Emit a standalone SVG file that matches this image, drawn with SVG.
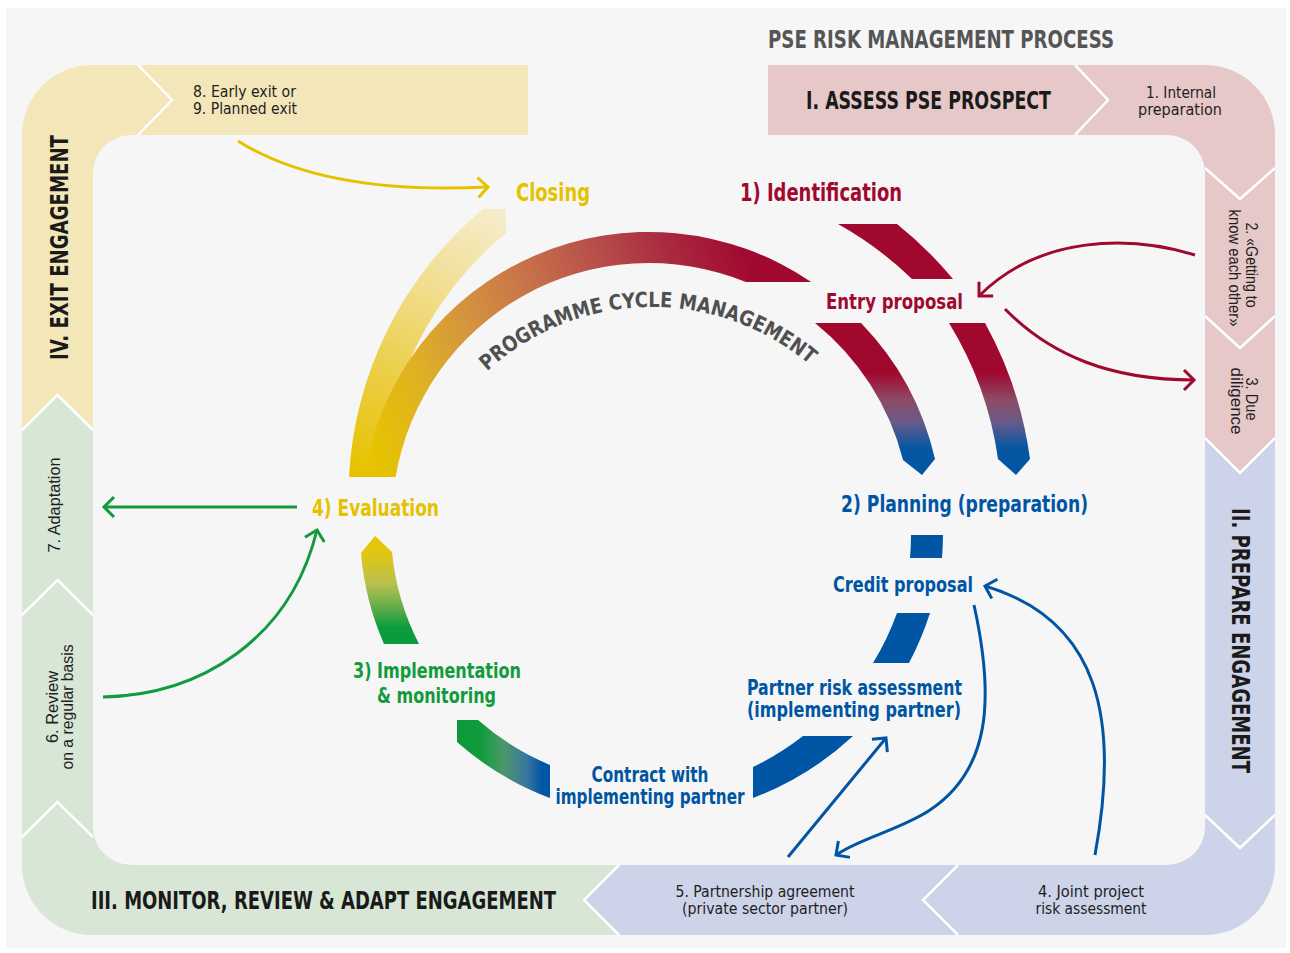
<svg xmlns="http://www.w3.org/2000/svg" width="1290" height="953" viewBox="0 0 1290 953">
<defs>
<style>
.cy{font-family:"Liberation Sans Narrow","DejaVu Sans Condensed","Liberation Sans",Arial,sans-serif;font-weight:bold}
.bd{font-family:"Liberation Sans Narrow","DejaVu Sans Condensed","Liberation Sans",Arial,sans-serif;font-size:16px;fill:#1e1e1e}
.rt{font-family:"Liberation Sans","DejaVu Sans",Arial,sans-serif;font-size:16px;fill:#1e1e1e}
.hd{font-family:"Liberation Sans Narrow","DejaVu Sans Condensed","Liberation Sans",Arial,sans-serif;font-weight:bold;font-size:24px;fill:#1a1a1a}
.sep{fill:none;stroke:#ffffff;stroke-width:2.5}
.cn{fill:none;stroke-width:3}
.yl{fill:#e5c200}.rd{fill:#a0092f}.bl{fill:#0055a3}.gr{fill:#129a3c}
</style>
<clipPath id="bandClip">
<path clip-rule="evenodd" d="M92,65 H1205 A70,70 0 0 1 1275,135 V865 A70,70 0 0 1 1205,935 H92 A70,70 0 0 1 22,865 V135 A70,70 0 0 1 92,65 Z M131,135 H1167 A38,38 0 0 1 1205,173 V827 A38,38 0 0 1 1167,865 H131 A38,38 0 0 1 93,827 V173 A38,38 0 0 1 131,135 Z"/>
</clipPath>
<linearGradient id="gMain" gradientUnits="userSpaceOnUse" x1="370" y1="440" x2="800" y2="270">
<stop offset="0" stop-color="#e6c300"/><stop offset="0.15" stop-color="#dfb124"/><stop offset="0.3" stop-color="#d3923f"/><stop offset="0.45" stop-color="#c7714a"/><stop offset="0.6" stop-color="#b84f4a"/><stop offset="0.75" stop-color="#a92a40"/><stop offset="0.9" stop-color="#a10a30"/><stop offset="1" stop-color="#a0082e"/>
</linearGradient>
<linearGradient id="gPale" gradientUnits="userSpaceOnUse" x1="500" y1="215" x2="360" y2="470">
<stop offset="0" stop-color="#f6eccb"/><stop offset="0.35" stop-color="#f1dd8c"/><stop offset="0.7" stop-color="#ebcd40"/><stop offset="1" stop-color="#e6c300"/>
</linearGradient>
<linearGradient id="gRB" gradientUnits="userSpaceOnUse" x1="0" y1="323" x2="0" y2="475">
<stop offset="0" stop-color="#a0082e"/><stop offset="0.33" stop-color="#a0082e"/><stop offset="0.5" stop-color="#8f4a66"/><stop offset="0.65" stop-color="#6a5a88"/><stop offset="0.82" stop-color="#0757a2"/><stop offset="1" stop-color="#0055a4"/>
</linearGradient>
<linearGradient id="gYG" gradientUnits="userSpaceOnUse" x1="0" y1="536" x2="0" y2="644">
<stop offset="0" stop-color="#e6c600"/><stop offset="0.15" stop-color="#e2c610"/><stop offset="0.45" stop-color="#b8c050"/><stop offset="0.7" stop-color="#50a848"/><stop offset="0.85" stop-color="#0c9c3c"/><stop offset="1" stop-color="#0a9a3c"/>
</linearGradient>
<linearGradient id="gGB" gradientUnits="userSpaceOnUse" x1="457" y1="0" x2="550" y2="0">
<stop offset="0" stop-color="#0a9a3c"/><stop offset="0.25" stop-color="#109c3c"/><stop offset="0.5" stop-color="#4a9868"/><stop offset="0.75" stop-color="#3a76a0"/><stop offset="0.92" stop-color="#0055a4"/><stop offset="1" stop-color="#0055a4"/>
</linearGradient>
<marker id="aY" markerUnits="userSpaceOnUse" markerWidth="30" markerHeight="30" viewBox="-15 -15 30 30" refX="0" refY="0" orient="auto" overflow="visible"><path d="M-10,-10 L0,0 L-10,10" fill="none" stroke="#e5c200" stroke-width="3"/></marker>
<marker id="aG" markerUnits="userSpaceOnUse" markerWidth="30" markerHeight="30" viewBox="-15 -15 30 30" refX="0" refY="0" orient="auto" overflow="visible"><path d="M-10,-10 L0,0 L-10,10" fill="none" stroke="#129a3c" stroke-width="3"/></marker>
<marker id="aR" markerUnits="userSpaceOnUse" markerWidth="30" markerHeight="30" viewBox="-15 -15 30 30" refX="0" refY="0" orient="auto" overflow="visible"><path d="M-10,-10 L0,0 L-10,10" fill="none" stroke="#a0092f" stroke-width="3"/></marker>
<marker id="aB" markerUnits="userSpaceOnUse" markerWidth="30" markerHeight="30" viewBox="-15 -15 30 30" refX="0" refY="0" orient="auto" overflow="visible"><path d="M-10,-10 L0,0 L-10,10" fill="none" stroke="#0055a3" stroke-width="3"/></marker>
<path id="pcm" d="M485.6,372.6 A244,244 0 0 1 821.5,375.5" fill="none"/>
</defs>

<rect x="6" y="8" width="1280" height="940" fill="#f6f6f6"/>

<g id="bands">
<g clip-path="url(#bandClip)">
<path d="M0,0 H528 V200 H120 V457.5 L57.5,395 L0,452.5 Z" fill="#f3e6b9"/>
<path d="M0,452.5 L57.5,395 L120,457.5 V840 H644 L584,900 L644,960 H0 Z" fill="#d7e6d5"/>
<path d="M584,900 L644,840 H1150 V383 L1240,473 L1330,383 V960 H644 Z" fill="#cdd3e8"/>
<path d="M768,0 H1330 V383 L1240,473 L1150,383 V200 H768 Z" fill="#e6c8c9"/>
<polyline class="sep" points="22,430 57.5,395 93,430"/>
<polyline class="sep" points="22,615 57.5,580 93,615"/>
<polyline class="sep" points="22,837 57.5,802 93,837"/>
<polyline class="sep" points="619,865 584,900 619,935"/>
<polyline class="sep" points="958,865 923,900 958,935"/>
<polyline class="sep" points="1205,438 1240,473 1275,438"/>
<polyline class="sep" points="1205,815 1240,848 1275,815"/>
<polyline class="sep" points="1205,316 1240,348 1275,316"/>
<polyline class="sep" points="1205,168 1240,199 1275,168"/>
<polyline class="sep" points="138,65 172,100 138,135"/>
<polyline class="sep" points="1075,65 1108,100 1075,135"/>
</g>
</g>

<g id="title">
<text class="cy" x="768" y="48" font-size="25" fill="#555555" textLength="346" lengthAdjust="spacingAndGlyphs">PSE RISK MANAGEMENT PROCESS</text>
</g>

<g id="stage-I">
<text class="hd" x="806" y="109" textLength="245" lengthAdjust="spacingAndGlyphs">I. ASSESS PSE PROSPECT</text>
<text class="bd" x="1181" y="98" font-size="15" text-anchor="middle" textLength="70" lengthAdjust="spacingAndGlyphs">1. Internal</text>
<text class="bd" x="1180" y="115" font-size="15" text-anchor="middle" textLength="84" lengthAdjust="spacingAndGlyphs">preparation</text>
<text class="rt" transform="translate(1246,265) rotate(90)" text-anchor="middle" textLength="85" lengthAdjust="spacingAndGlyphs">2. «Getting to</text>
<text class="rt" transform="translate(1229,268) rotate(90)" text-anchor="middle" textLength="117" lengthAdjust="spacingAndGlyphs">know each other»</text>
<text class="rt" transform="translate(1246,399) rotate(90)" text-anchor="middle" textLength="43" lengthAdjust="spacingAndGlyphs">3. Due</text>
<text class="rt" transform="translate(1231,401) rotate(90)" text-anchor="middle" textLength="67" lengthAdjust="spacingAndGlyphs">diligence</text>
</g>

<g id="stage-II">
<text class="hd" transform="translate(1232,508) rotate(90)" font-size="25" textLength="265" lengthAdjust="spacingAndGlyphs">II. PREPARE ENGAGEMENT</text>
<text class="bd" x="1091" y="897" text-anchor="middle" textLength="106" lengthAdjust="spacingAndGlyphs">4. Joint project</text>
<text class="bd" x="1091" y="914" text-anchor="middle" textLength="111" lengthAdjust="spacingAndGlyphs">risk assessment</text>
<text class="bd" x="765" y="897" text-anchor="middle" textLength="179" lengthAdjust="spacingAndGlyphs">5. Partnership agreement</text>
<text class="bd" x="765" y="914" text-anchor="middle" textLength="166" lengthAdjust="spacingAndGlyphs">(private sector partner)</text>
</g>

<g id="stage-III">
<text class="hd" x="91" y="909" textLength="465" lengthAdjust="spacingAndGlyphs">III. MONITOR, REVIEW &amp; ADAPT ENGAGEMENT</text>
<text class="rt" transform="translate(58,707) rotate(-90)" text-anchor="middle" textLength="72" lengthAdjust="spacingAndGlyphs">6. Review</text>
<text class="rt" transform="translate(73,707) rotate(-90)" text-anchor="middle" textLength="125" lengthAdjust="spacingAndGlyphs">on a regular basis</text>
<text class="rt" transform="translate(60,505) rotate(-90)" text-anchor="middle" textLength="95" lengthAdjust="spacingAndGlyphs">7. Adaptation</text>
</g>

<g id="stage-IV">
<text class="hd" transform="translate(68,360) rotate(-90)" font-size="25" textLength="225" lengthAdjust="spacingAndGlyphs">IV. EXIT ENGAGEMENT</text>
<text class="bd" x="193" y="97" textLength="103" lengthAdjust="spacingAndGlyphs">8. Early exit or</text>
<text class="bd" x="193" y="114" textLength="104" lengthAdjust="spacingAndGlyphs">9. Planned exit</text>
</g>

<g id="n-closing">
<path d="M349,477 A374,374 0 0 1 483,209 L506,209 L506,233 A341,341 0 0 0 382,477 Z" fill="url(#gPale)"/>
<text class="cy yl" x="516" y="201" font-size="24" textLength="74" lengthAdjust="spacingAndGlyphs">Closing</text>
</g>

<g id="n-programme-cycle">
<path d="M364.2,477 A288,288 0 0 1 811.2,282 L746,282 A257,257 0 0 0 395.6,477 Z" fill="url(#gMain)"/>
<text class="cy" font-size="21" fill="#505050"><textPath href="#pcm" startOffset="2" textLength="352" lengthAdjust="spacingAndGlyphs">PROGRAMME CYCLE MANAGEMENT</textPath></text>
</g>

<g id="n-identification">
<text class="cy rd" x="740" y="201" font-size="24" textLength="162" lengthAdjust="spacingAndGlyphs">1) Identification</text>
<path d="M838,224 L897,224 A387,387 0 0 1 953,279 L912,279 A355,355 0 0 0 838,224 Z" fill="#a0082e"/>
</g>

<g id="n-entry-proposal">
<text class="cy rd" x="826" y="309" font-size="22" textLength="137" lengthAdjust="spacingAndGlyphs">Entry proposal</text>
<path d="M815,323 L861,323 A288,288 0 0 1 935,459 L922,475 L903,460 A257,257 0 0 0 815,323 Z" fill="url(#gRB)"/>
<path d="M949,323 L985,323 A387,387 0 0 1 1030,459 L1016,475 L998,459 A355,355 0 0 0 949,323 Z" fill="url(#gRB)"/>
</g>

<g id="n-planning">
<text class="cy bl" x="841" y="512" font-size="23" textLength="247" lengthAdjust="spacingAndGlyphs">2) Planning (preparation)</text>
<path d="M911,535 L943,535 A305,305 0 0 1 942,558 L910,558 A273,273 0 0 0 911,535 Z" fill="#0055a4"/>
</g>

<g id="n-credit-proposal">
<text class="cy bl" x="833" y="592" font-size="22" textLength="140" lengthAdjust="spacingAndGlyphs">Credit proposal</text>
<path d="M897,613 L930,613 A305,305 0 0 1 909,663 L873,663 A273,273 0 0 0 897,613 Z" fill="#0055a4"/>
</g>

<g id="n-partner-risk">
<text class="cy bl" x="747" y="695" font-size="21" textLength="215" lengthAdjust="spacingAndGlyphs">Partner risk assessment</text>
<text class="cy bl" x="747" y="717" font-size="21" textLength="214" lengthAdjust="spacingAndGlyphs">(implementing partner)</text>
<path d="M803,736 L853,736 A305,305 0 0 1 753,798 L753,767 A273,273 0 0 0 803,736 Z" fill="#0055a4"/>
</g>

<g id="n-contract">
<text class="cy bl" x="650" y="782" font-size="21" text-anchor="middle" textLength="117" lengthAdjust="spacingAndGlyphs">Contract with</text>
<text class="cy bl" x="650" y="804" font-size="21" text-anchor="middle" textLength="189" lengthAdjust="spacingAndGlyphs">implementing partner</text>
<path d="M457,720 L478,720 A265,265 0 0 0 550,765 L550,798 A298,298 0 0 1 457,742 Z" fill="url(#gGB)"/>
</g>

<g id="n-implementation">
<text class="cy gr" x="353" y="678" font-size="22" textLength="168" lengthAdjust="spacingAndGlyphs">3) Implementation</text>
<text class="cy gr" x="377" y="703" font-size="22" textLength="119" lengthAdjust="spacingAndGlyphs">&amp; monitoring</text>
<path d="M375,536 L392,552 A255,255 0 0 0 419,644 L384,644 A285,285 0 0 1 361,553 Z" fill="url(#gYG)"/>
</g>

<g id="n-evaluation">
<text class="cy yl" x="312" y="516" font-size="23" textLength="127" lengthAdjust="spacingAndGlyphs">4) Evaluation</text>
</g>

<g id="connectors">
<path class="cn" stroke="#e5c200" d="M238,141 C300,180 390,192 488,187" marker-end="url(#aY)"/>
<path class="cn" stroke="#129a3c" d="M297,507 H104" marker-end="url(#aG)"/>
<path class="cn" stroke="#129a3c" d="M103,697 C200,695 290,640 317,530" marker-end="url(#aG)"/>
<path class="cn" stroke="#a0092f" d="M1195,255 C1130,235 1040,235 979,296" marker-end="url(#aR)"/>
<path class="cn" stroke="#a0092f" d="M1005,309 C1050,355 1110,380 1194,380" marker-end="url(#aR)"/>
<path class="cn" stroke="#0055a3" d="M974,605 C995,700 990,770 930,810 C900,830 860,838 836,855" marker-end="url(#aB)"/>
<path class="cn" stroke="#0055a3" d="M788,857 L886,738" marker-end="url(#aB)"/>
<path class="cn" stroke="#0055a3" d="M1095,855 C1120,720 1100,620 985,586" marker-end="url(#aB)"/>
</g>
</svg>
